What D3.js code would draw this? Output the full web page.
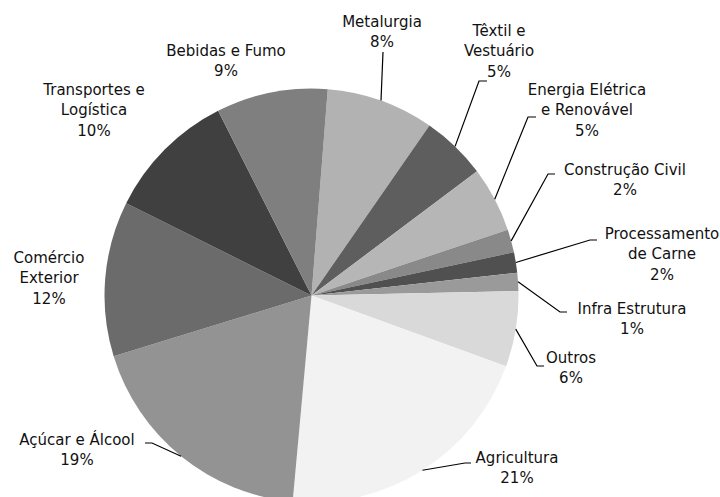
<!DOCTYPE html>
<html>
<head>
<meta charset="utf-8">
<script src="https://cdn.jsdelivr.net/npm/d3@7"></script>
<style>
  body { margin: 0; background: #fff; }
  svg { display: block; }
  text { font-family: "DejaVu Sans", sans-serif; font-size: 15px; fill: #111; }
</style>
</head>
<body>
<div id="chart"></div>
<script>
var width = 720,
  height = 497;

// data (percent shares, clockwise from the top)
var categories = ["Metalurgia", "Têxtil e Vestuário", "Energia Elétrica e Renovável",
  "Construção Civil", "Processamento de Carne", "Infra Estrutura", "Outros",
  "Agricultura", "Açúcar e Álcool", "Comércio Exterior", "Transportes e Logística",
  "Bebidas e Fumo"];
var values = [8.4, 5.1, 5.1, 1.8, 1.6, 1.4, 5.9, 20.9, 18.8, 12.1, 10.2, 8.7];
var pctLabels = ["8%", "5%", "5%", "2%", "2%", "1%", "6%", "21%", "19%", "12%", "10%", "9%"];
var labelLines = [
  ["Metalurgia"], ["Têxtil e", "Vestuário"], ["Energia Elétrica", "e Renovável"],
  ["Construção Civil"], ["Processamento", "de Carne"], ["Infra Estrutura"], ["Outros"],
  ["Agricultura"], ["Açúcar e Álcool"], ["Comércio", "Exterior"], ["Transportes e", "Logística"],
  ["Bebidas e Fumo"]
];
var colors = ["#b2b2b2", "#5e5e5e", "#b6b6b6", "#898989", "#505050", "#9a9a9a", "#d9d9d9",
  "#f2f2f2", "#939393", "#6b6b6b", "#404040", "#7f7f7f"];

// label placement: centre x, first baseline y, leader elbow + short tick end (or null)
var layout = [
  {x: 382, y: 27, elbow: [383, 52], tick: null},
  {x: 499, y: 36, elbow: [479, 81], tick: [487, 81]},
  {x: 587, y: 95, elbow: [528, 117], tick: [536, 117]},
  {x: 625, y: 175, elbow: [548, 174], tick: [555, 174]},
  {x: 662, y: 239, elbow: [590, 240], tick: [597, 240]},
  {x: 632, y: 314, elbow: [560, 312], tick: [567, 312]},
  {x: 571, y: 363, elbow: [537, 366], tick: [544, 366]},
  {x: 517, y: 463, elbow: [465, 463], tick: [471, 463]},
  {x: 77, y: 445, elbow: [152, 443], tick: [145, 443]},
  {x: 49, y: 263, elbow: null, tick: null},
  {x: 94, y: 95, elbow: null, tick: null},
  {x: 226, y: 56, elbow: null, tick: null}
];

var cx = 311.5, cy = 295.5, radius = 207, lineH = 20.3;

var svg = d3.select("#chart").append("svg")
  .attr("width", width)
  .attr("height", height);

var g = svg.append("g")
  .attr("transform", "translate(" + cx + "," + cy + ")");

var start = 4.5 * Math.PI / 180;
var pie = d3.pie()
  .sort(null)
  .startAngle(start)
  .endAngle(start + 2 * Math.PI);

var arcs = pie(values);
var arc = d3.arc().innerRadius(0).outerRadius(radius);
var edge = d3.arc().innerRadius(radius).outerRadius(radius);

g.selectAll("path.slice")
  .data(arcs)
  .enter().append("path")
    .attr("class", "slice")
    .attr("d", arc)
    .attr("fill", function(d, i) { return colors[i]; });

// leader lines from slice edge to label
svg.selectAll("path.leader")
  .data(arcs.filter(function(d, i) { return layout[i].elbow; }))
  .enter().append("path")
    .attr("class", "leader")
    .attr("fill", "none")
    .attr("stroke", "#000")
    .attr("stroke-width", 1.2)
    .attr("d", function(d) {
      var L = layout[d.index];
      var p = edge.centroid(d);
      var pts = [[p[0] + cx, p[1] + cy], L.elbow];
      if (L.tick) pts.push(L.tick);
      return d3.line()(pts);
    });

// labels
var labels = svg.selectAll("text.lbl")
  .data(arcs)
  .enter().append("text")
    .attr("class", "lbl")
    .attr("text-anchor", "middle")
    .attr("x", function(d) { return layout[d.index].x; })
    .attr("y", function(d) { return layout[d.index].y; });

labels.each(function(d) {
  var t = d3.select(this);
  var lines = labelLines[d.index].concat([pctLabels[d.index]]);
  lines.forEach(function(s, k) {
    t.append("tspan")
      .attr("x", layout[d.index].x)
      .attr("dy", k === 0 ? 0 : lineH)
      .text(s);
  });
});
</script>
</body>
</html>
